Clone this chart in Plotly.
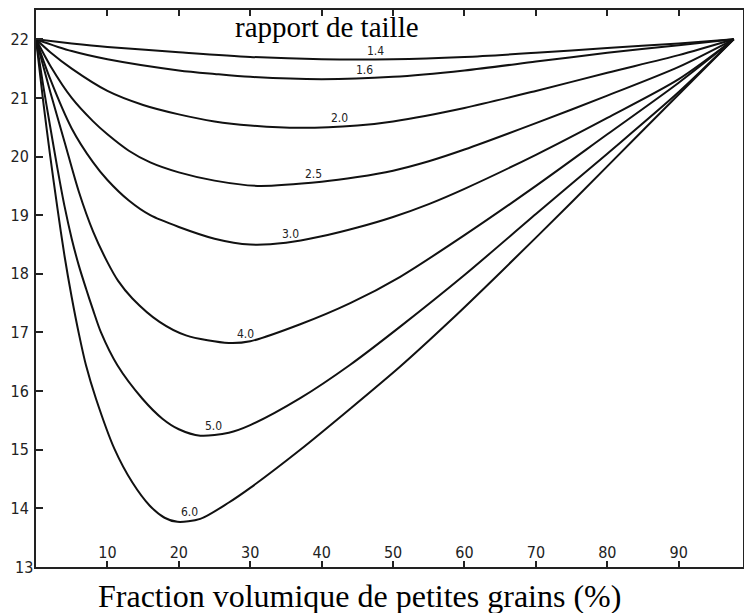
import numpy as np
import plotly.graph_objects as go

# size ratios (rapport de taille)
ratios = ["1.4", "1.6", "2.0", "2.5", "3.0", "4.0", "5.0", "6.0"]

# fraction of small grains (%) and corresponding values
x_14 = [0, 5, 10, 20, 30, 40, 50, 60, 70, 80, 90, 97.7]
y_14 = [22.0, 21.93, 21.87, 21.78, 21.70, 21.66, 21.66, 21.70, 21.77, 21.85, 21.93, 22.0]

x_16 = [0, 5, 10, 20, 25, 30, 40, 50, 60, 70, 80, 90, 97.7]
y_16 = [22.0, 21.80, 21.66, 21.47, 21.41, 21.36, 21.32, 21.36, 21.47, 21.62, 21.77, 21.90, 22.0]

x_20 = [0, 2, 5, 10, 15, 20, 25, 30, 37, 45, 50, 60, 70, 80, 90, 97.7]
y_20 = [22.0, 21.78, 21.50, 21.12, 20.88, 20.72, 20.60, 20.53, 20.49, 20.53, 20.60, 20.83, 21.12, 21.43, 21.73, 22.0]

x_25 = [0, 2, 5, 8, 10, 13, 16, 20, 25, 31, 40, 45, 50, 55, 60, 70, 80, 90, 97.7]
y_25 = [22.0, 21.55, 21.00, 20.60, 20.38, 20.10, 19.90, 19.73, 19.59, 19.50, 19.57, 19.65, 19.76, 19.92, 20.12, 20.57, 21.04, 21.53, 22.0]

x_30 = [0, 2, 5, 8, 10, 13, 16, 20, 25, 30, 35, 40, 45, 50, 55, 60, 70, 80, 90, 97.7]
y_30 = [22.0, 21.32, 20.48, 19.90, 19.60, 19.25, 19.00, 18.80, 18.60, 18.50, 18.53, 18.64, 18.79, 18.97, 19.19, 19.45, 20.03, 20.66, 21.32, 22.0]

x_40 = [0, 2, 4, 6, 8, 10, 11.5, 13.5, 17.3, 21, 27, 30, 37, 44, 51, 60, 70, 80, 90, 97.7]
y_40 = [22.0, 21.10, 20.25, 19.40, 18.72, 18.20, 17.88, 17.58, 17.18, 16.95, 16.82, 16.85, 17.14, 17.50, 17.95, 18.66, 19.50, 20.38, 21.26, 22.0]

x_50 = [0, 1, 2, 3, 4, 5, 6, 7, 8, 9.1, 11.4, 14.9, 17.7, 20, 23, 27, 30, 37, 44, 51, 60, 70, 80, 90, 97.7]
y_50 = [22.0, 21.22, 20.50, 19.80, 19.15, 18.60, 18.14, 17.75, 17.38, 17.00, 16.44, 15.87, 15.53, 15.35, 15.24, 15.29, 15.42, 15.88, 16.45, 17.10, 17.98, 19.02, 20.05, 21.10, 22.0]

x_60 = [0, 1, 2, 3, 4, 5, 6, 7, 8.4, 11, 13.5, 15.9, 18, 19.8, 23, 27, 30, 37, 44, 51, 58, 65, 75, 85, 97.7]
y_60 = [22.0, 20.95, 20.00, 19.12, 18.30, 17.60, 16.98, 16.44, 15.87, 15.01, 14.44, 14.05, 13.84, 13.77, 13.82, 14.10, 14.35, 15.00, 15.70, 16.42, 17.20, 18.02, 19.22, 20.45, 22.0]

curves_x = [x_14, x_16, x_20, x_25, x_30, x_40, x_50, x_60]
curves_y = [y_14, y_16, y_20, y_25, y_30, y_40, y_50, y_60]

# where along each curve its ratio label sits (x, %)
label_at = [47.5, 46.0, 42.5, 38.9, 35.6, 29.4, 24.9, 21.5]

x_ticks = [10, 20, 30, 40, 50, 60, 70, 80, 90]
y_ticks = [13, 14, 15, 16, 17, 18, 19, 20, 21, 22]

tick_font = dict(family="DejaVu Sans Condensed, Liberation Sans Narrow, sans-serif", size=16, color="#222")
serif = "Liberation Serif, Times New Roman, serif"

fig = go.Figure()
for cx, cy in zip(curves_x, curves_y):
    fig.add_trace(go.Scatter(x=cx, y=cy, mode="lines",
                             line=dict(color="#111", width=2, shape="spline", smoothing=0.8),
                             showlegend=False, hoverinfo="skip", cliponaxis=False))

annotations = []
for r, cx, cy, lx in zip(ratios, curves_x, curves_y, label_at):
    ly = float(np.interp(lx, cx, cy))
    annotations.append(dict(x=lx, y=ly, xref="x", yref="y", text=r, showarrow=False,
                            yshift=8, yanchor="middle",
                            font=dict(family="DejaVu Sans Condensed, sans-serif", size=12, color="#222")))

# lowest y tick label (Plotly drops it at the axis corner)
annotations.append(dict(x=0, y=y_ticks[0], xref="paper", yref="y", text=str(y_ticks[0]),
                        showarrow=False, xanchor="right", yanchor="middle", xshift=-1,
                        font=tick_font))

annotations.append(dict(x=0.411, y=0.937, xref="paper", yref="paper", text="rapport de taille",
                        showarrow=False, xanchor="center", yanchor="bottom",
                        font=dict(family=serif, size=29, color="#000")))
annotations.append(dict(x=0.457, y=-0.052, xref="paper", yref="paper",
                        text="Fraction volumique de petites grains (%)",
                        showarrow=False, xanchor="center", yanchor="middle",
                        font=dict(family=serif, size=32, color="#000")))

fig.update_layout(
    width=744, height=613,
    margin=dict(l=36, r=1, t=10, b=46, autoexpand=False),
    paper_bgcolor="white", plot_bgcolor="white",
    annotations=annotations,
)
fig.update_xaxes(range=[0, 99.0], tickvals=x_ticks, ticks="inside", ticklen=6, tickwidth=1.5,
                 tickcolor="#222", ticklabelposition="inside", tickfont=tick_font,
                 showline=True, linecolor="#222", linewidth=2, mirror="ticks",
                 showgrid=False, zeroline=False, automargin=False)
fig.update_yaxes(range=[13, 22.5], tickvals=y_ticks[1:], ticks="inside", ticklen=7, tickwidth=1.5,
                 tickcolor="#222", tickfont=tick_font, ticklabelstandoff=2,
                 showline=True, linecolor="#222", linewidth=2, mirror=True,
                 showgrid=False, zeroline=False, automargin=False)

fig.write_html("out.html", config={"displayModeBar": False},
               post_script="document.body.style.margin='0';document.body.style.overflow='hidden';")
